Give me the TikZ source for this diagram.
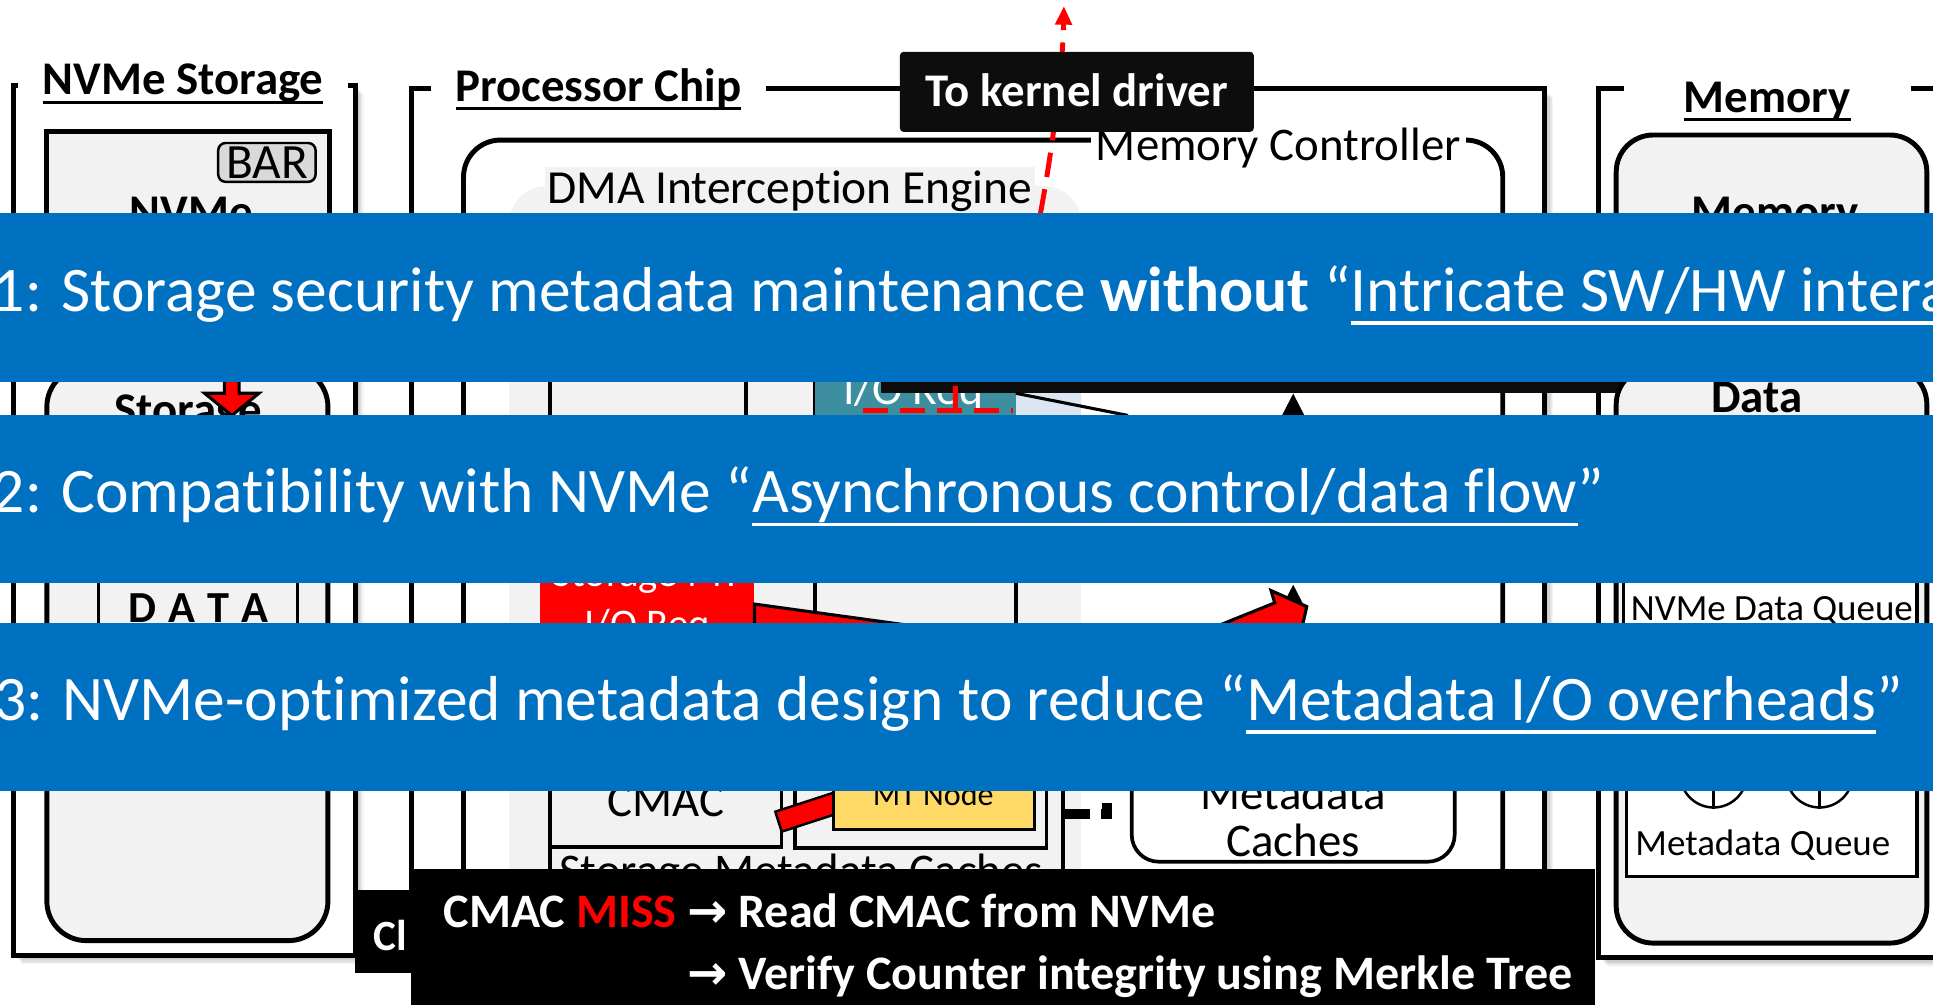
\documentclass[tikz,border=0pt]{standalone}
\usepackage{fontspec}
\setmainfont{Carlito}[RawFeature={-liga}]
\newfontfamily\arrowfont{DejaVu Sans}
\usetikzlibrary{arrows.meta}

\definecolor{bannerblue}{RGB}{0,112,192}
\definecolor{lg}{RGB}{242,242,242}
\definecolor{bargrey}{RGB}{217,217,217}
\definecolor{tealbox}{RGB}{61,143,159}
\definecolor{paleblue}{RGB}{220,230,242}
\definecolor{mtyellow}{RGB}{255,217,102}
\definecolor{inkblack}{RGB}{13,13,13}

\newcommand\fs[1]{\fontsize{#1pt}{#1pt}\selectfont}
% underlined text: #1 depth of the rule's bottom, #2 rule thickness, #3 text
\newsavebox\ulsave
\newcommand\ulrule[3]{\sbox\ulsave{#3}\rlap{\rule[-#1]{\wd\ulsave}{#2}}\usebox\ulsave}
\newcommand\banul[1]{\ulrule{11pt}{3pt}{#1}}
\newcommand\titul[1]{\ulrule{7pt}{2.4pt}{#1}}
\newcommand\rarr{{\arrowfont\bfseries →}}
% rectangle node given by its top-left and bottom-right corners
\newcommand\rectnode[6]{\node[#2, anchor=north west, minimum width={#5-#3}, minimum height={#6-#4}, inner sep=0pt, outer sep=0pt] (#1) at (#3,#4) {};}
% soft drop shadow below and right of a frame
\newcommand\softshadow[4]{\foreach \k in {1,...,7}{\fill[black,opacity=0.045] (#1+\k,#2+\k) rectangle (#3+\k,#4+\k);}}

\tikzset{
  frameline/.style={draw=black, line width=4pt, fill=white},
  greybox/.style={draw=black, line width=3pt, fill=lg},
  whitebox/.style={draw=black, line width=3pt, fill=white},
  txt/.style={inner sep=0pt, outer sep=0pt, font=\fs{#1}},
  btxt/.style={inner sep=0pt, outer sep=0pt, font=\fs{#1}\bfseries},
  titlebox/.style={fill=white, inner xsep=0pt, inner ysep=4pt, font=\fs{38}\bfseries},
  banner/.style={fill=bannerblue},
  bantext/.style={inner sep=0pt, text=white, font=\fs{51.5}, anchor=base west},
  redblock/.style={fill=red, draw=black, line width=2.5pt, line join=miter},
  reddash/.style={draw=red, line width=4pt, dash pattern=on 20pt off 10pt},
  blkarrow/.style={draw=black, line width=4pt, -{Triangle[length=18pt,width=17pt]}},
}

\begin{document}
\begin{tikzpicture}[x=1pt,y=-1pt]
\useasboundingbox (0,0) rectangle (1568,815);
\clip (0,0) rectangle (1568,815);
\fill[white] (0,0) rectangle (1568,815);

% ---------- outer frames ----------
\softshadow{11}{69}{288}{775}
\softshadow{334}{72}{1253}{785}
\softshadow{1297}{72}{1600}{777}
\rectnode{nvmeframe}{frameline}{11}{69}{288}{775}
\rectnode{procframe}{frameline}{334}{72}{1253}{785}
\rectnode{memframe}{frameline}{1297}{72}{1600}{777}
\node[titlebox, minimum width=267pt, anchor=base] (nvmetitle) at (148.5,77) {\titul{NVMe Storage}};
\node[titlebox, minimum width=271pt, anchor=base] (proctitle) at (485.5,82.5) {\titul{Processor Chip}};
\node[titlebox, minimum width=233pt, anchor=base] (memtitle) at (1433.5,91) {\titul{Memory}};

% ---------- NVMe storage ----------
\rectnode{nvmectrl}{greybox, line width=4pt}{38}{107}{267}{270}
\node[draw=black, line width=2pt, fill=bargrey, rounded corners=6pt, minimum width=79pt, minimum height=31.5pt, inner sep=0pt, font=\fs{40}, text height=25.8pt, text depth=0pt] (bar) at (216.5,131.75) {BAR};
\node[btxt=38, anchor=base] (nvmelabel) at (155,184.5) {NVMe};
\rectnode{storagebox}{greybox, line width=4pt, rounded corners=32pt}{38}{298}{266}{763}
\node[btxt=38, anchor=base] (storagelabel) at (152.5,345) {Storage};
\rectnode{databox}{draw=black, line width=2.5pt, fill=lg}{80}{450}{241}{540}
\node[btxt=36, anchor=base] (datalabel) at (161,504.6) {D\kern10pt A\kern10pt T\kern10pt A};
\draw[redblock] (182,262) -- (194,262) -- (194,319) -- (210,319) -- (188,337) -- (166,319) -- (182,319) -- cycle;

% ---------- processor chip ----------
\rectnode{memctrl}{draw=black, line width=4pt, fill=white, rounded corners=30pt}{376}{113.6}{1219}{770}
\node[txt=38, fill=white, inner xsep=4pt, inner ysep=2pt, anchor=base west] (memctrllabel) at (885,130) {Memory Controller};
\rectnode{dma}{fill=lg, rounded corners=30pt}{413}{151}{877}{745}
\node[txt=38.5, fill=lg, inner xsep=2pt, inner ysep=3pt, anchor=base west] (dmalabel) at (442,165) {DMA Interception Engine};
\rectnode{boxa}{greybox}{446}{200}{605}{460}
\rectnode{boxb}{greybox}{661}{200}{824}{600}
\rectnode{iorq}{fill=tealbox}{661}{250}{824}{348}
\node[txt=37, text=white, anchor=base] (iorqlabel) at (741,328.5) {I/O Req};
\rectnode{storreq}{fill=red}{438}{445}{612}{532}
\node[txt=33, text=white, anchor=base] (storreqa) at (525,476) {Storage MT};
\node[txt=33, text=white, anchor=base] (storreqb) at (525,517) {I/O Req};
\rectnode{smc}{greybox}{446}{560}{862}{745}
\node[txt=38, anchor=base] (smclabel) at (650,719) {Storage Metadata Caches};
\rectnode{cmacbox}{greybox}{446}{590}{634}{687}
\node[txt=38, anchor=base] (cmaclabel) at (540,662) {CMAC};
\rectnode{mtbox}{greybox}{645}{590}{849}{688}
\draw[redblock, line width=2pt] (628.9,658.4) -- (634.1,674.6) -- (722.6,645.8) -- (717.4,629.6) -- cycle;
\rectnode{mtnode}{draw=black, line width=2.5pt, fill=mtyellow}{676}{600}{839}{672.6}
\node[txt=26, anchor=base] (mtlabel) at (757,653) {MT Node};

\rectnode{mdcache}{whitebox, rounded corners=22pt}{918}{585}{1180}{699}
\node[txt=38, anchor=base] (mdcachea) at (1049,657) {Metadata};
\node[txt=38, anchor=base] (mdcacheb) at (1049,695) {Caches};

% callout bar and highlight
\rectnode{callout}{fill=inkblack}{715}{250}{1375}{319}
\rectnode{hilite}{fill=paleblue}{824}{319}{877}{345}
\coordinate (diagend) at (915,337);
\draw[black, line width=2.5pt] (hilite.north west) -- (diagend);

% request path to the kernel driver
\coordinate (rdl) at (700,333);
\coordinate (rdr) at (822,333);
\coordinate (rdc) at (775,333);
\coordinate (kdtip) at (863,5);
\draw[reddash] (rdl) -- (rdr);
\draw[reddash, -{Triangle[length=15pt,width=13pt]}] (rdc) -- (775,300) .. controls (778,240) and (836,215) .. (844,173) .. controls (852,130) and (862,60) .. (kdtip);

% metadata cache arrows
\coordinate (uptipa) at (1049,474);
\coordinate (uptailb) at (1049,430);
\draw[blkarrow] (mdcache.north) -- (uptipa);
\draw[blkarrow] (uptailb) -- (callout.south -| mdcache.north);
\draw[redblock] (612,490) -- (925,533) -- (1034,489) -- (1031,479) -- (1060,492) -- (1052,528) -- (1045,513) -- (935,560) -- (612,518) -- cycle;

\coordinate (dashbend) at (898,660);
\coordinate (dashend) at (898,560);
\draw[black, line width=8pt, dash pattern=on 22pt off 9pt on 14pt off 9pt] (smc.east |- dashbend) -- (dashbend) -- (dashend);

\node[fill=inkblack, rounded corners=3pt, minimum width=287pt, minimum height=65pt, inner sep=0pt, text=white, font=\fs{38}\bfseries, text height=24.5pt, text depth=0pt] (kdriver) at (873.5,74.5) {To kernel driver};

% ---------- memory ----------
\rectnode{memtop}{greybox, line width=4pt, rounded corners=30pt}{1311}{109.5}{1563}{290}
\node[btxt=38, anchor=base] (memtoplabel) at (1440,184.5) {Memory};
\rectnode{memdata}{greybox, line width=4pt, rounded corners=30pt}{1311}{298}{1563}{765}
\node[btxt=38, anchor=base] (memdatalabel) at (1425,335) {Data};
\rectnode{nvmeq}{draw=black, line width=2.5pt, fill=white}{1317}{420}{1555}{560}
\node[txt=30, anchor=base west] (nvmeqlabel) at (1323,503) {NVMe Data Queue};
\rectnode{mdq}{draw=black, line width=2.5pt, fill=white}{1319}{590}{1555}{711}
\node[txt=30, anchor=base] (mdqlabel) at (1430,693.6) {Metadata Queue};
\foreach \cx/\nm in {1390/qa,1476/qb}{
  \node[draw=black, line width=2pt, fill=white, circle, minimum size=54pt, inner sep=0pt] (\nm) at (\cx,628) {};
  \draw[line width=2pt] (\nm.north) -- (\nm.south);
  \draw[line width=2pt] (\nm.west) -- (\nm.east);
}

% ---------- bottom notes ----------
\rectnode{clbox}{fill=black}{288}{722}{345}{789}
\node[btxt=35, text=white, anchor=base west] (cllabel) at (303,771) {Cl};
\rectnode{missbox}{fill=black}{333}{705}{1294}{830}
\node[btxt=39, text=white, anchor=base west] (missa) at (360,752) {CMAC \textcolor{red}{MISS} \rarr{} Read CMAC from NVMe};
\node[btxt=39, text=white, anchor=base west] (missb) at (360,803) {\phantom{CMAC MISS }\rarr{} Verify Counter integrity using Merkle Tree};

% ---------- banners ----------
\rectnode{banone}{banner}{0}{173}{1568}{310}
\rectnode{bantwo}{banner}{0}{337}{1568}{473}
\rectnode{banthree}{banner}{0}{505}{1568}{642}
\node[bantext] (banonetext) at (-6,252.5) {1: Storage security metadata maintenance \textbf{without} “\banul{Intricate SW/HW interaction}”};
\node[bantext] (bantwotext) at (-6,416) {2: Compatibility with NVMe “\banul{Asynchronous control/data flow}”};
\node[bantext] (banthreetext) at (-5,584.5) {3: NVMe-optimized metadata design to reduce “\banul{Metadata I/O overheads}”};
\end{tikzpicture}
\end{document}
